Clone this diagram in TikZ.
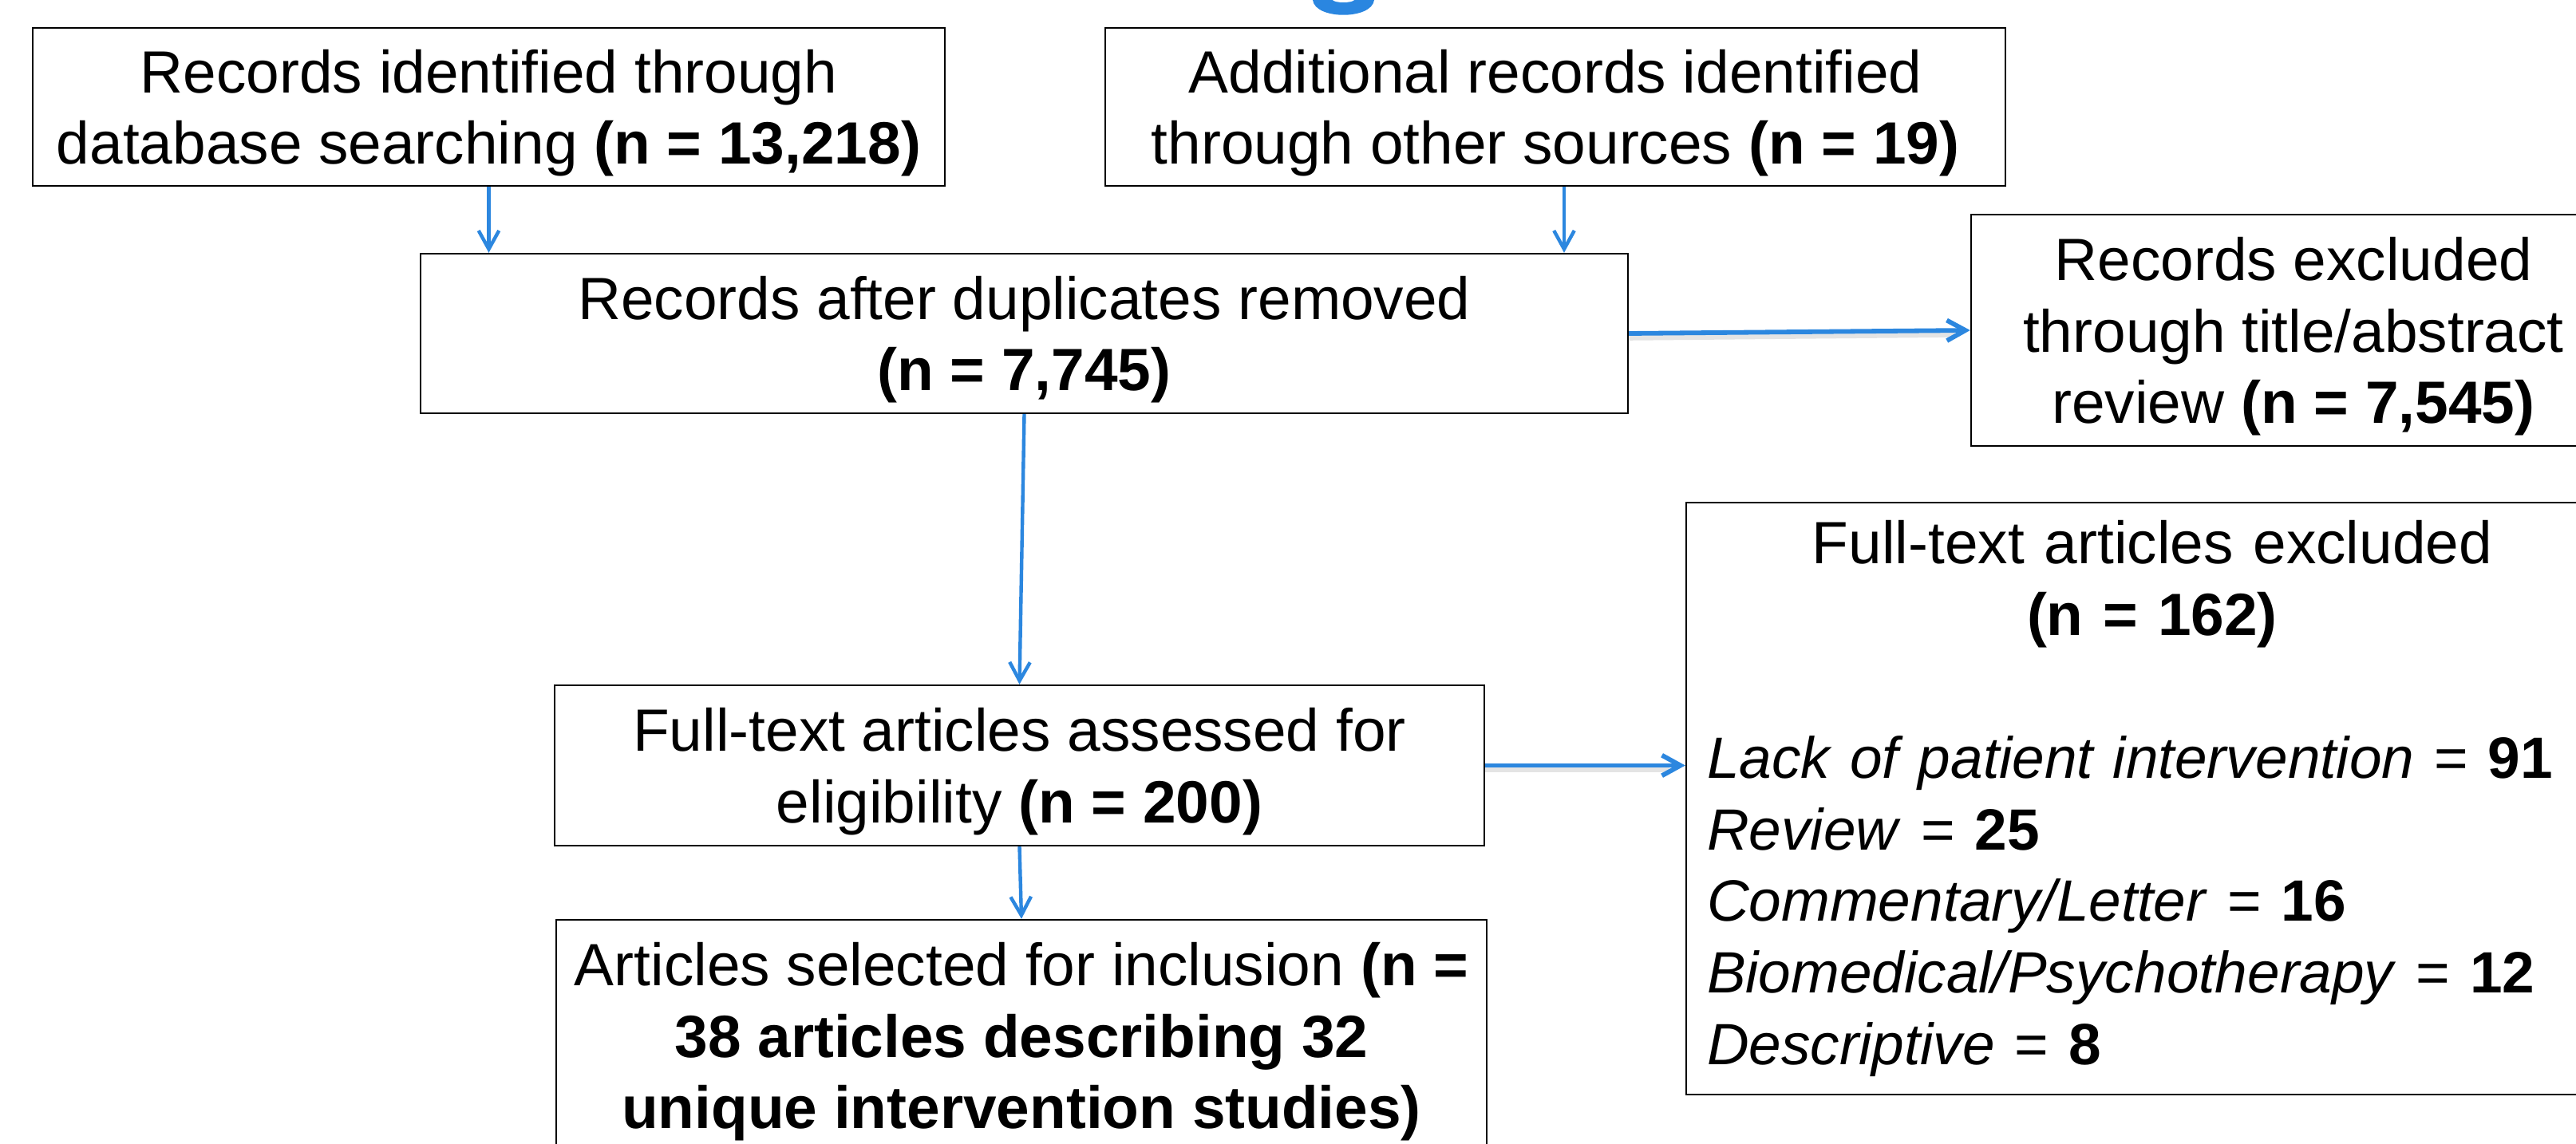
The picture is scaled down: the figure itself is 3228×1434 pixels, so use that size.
\documentclass[tikz,border=0pt]{standalone}
\usepackage{fontspec}
\setmainfont{Liberation Sans}
\usetikzlibrary{arrows.meta}
\setlength{\parindent}{0pt}
\definecolor{arrowblue}{RGB}{44,135,223}
\definecolor{titleblue}{RGB}{42,134,224}
\begin{document}
\begin{tikzpicture}[x=0.25pt,y=-0.25pt,
  basebox/.style={draw=black, line width=0.6pt, rectangle, inner sep=0pt, align=center,
    font=\fontsize{18.7}{22.4}\selectfont},
  box/.style={basebox, text depth=0pt},
  thinarrow/.style={draw=arrowblue, line width=1.1pt, -{Straight Barb[length=5.8pt,width=6.4pt]}},
  thickarrow/.style={draw=arrowblue, line width=1.45pt, -{Straight Barb[length=5.8pt,width=6.4pt]}},
  shadowline/.style={draw=black!30, line width=2pt, opacity=0.35}
]
\useasboundingbox (0,0) rectangle (3228,1434);
\fill[white] (0,0) rectangle (3228,1434);
\clip (0,0) rectangle (3228,1434);

% cut-off descender of the title above the frame
\fill[titleblue] (1645,0) .. controls (1648,25) and (1719,25) .. (1722,0) -- cycle;
\fill[white] (1670,0) .. controls (1673,4) and (1694,4) .. (1697,0) -- cycle;

\node[box, minimum width=285.75pt, minimum height=49.5pt] (b1) at (612.5,134)
  {Records identified through\\database searching \textbf{(n = 13,218)}};
\node[box, minimum width=282pt, minimum height=49.5pt] (b2) at (1949,134)
  {Additional records identified\\through other sources \textbf{(n = 19)}};
\node[box, minimum width=378.25pt, minimum height=50pt] (b3) at (1283.5,418)
  {Records after duplicates removed\\\textbf{(n = 7,745)}};
\node[box, minimum width=202pt, minimum height=72.5pt] (b4) at (2874,414)
  {Records excluded\\through title/abstract\\review \textbf{(n = 7,545)}};
\node[box, minimum width=291.25pt, minimum height=50.25pt] (b5) at (1277.5,959.5)
  {Full-text articles assessed for\\eligibility \textbf{(n = 200)}};
\node[box, minimum width=291.5pt, minimum height=72.5pt] (b6) at (1280,1298)
  {Articles selected for inclusion \textbf{(n =}\\\textbf{38 articles describing 32}\\\textbf{unique intervention studies)}};
\node[basebox, align=left, text width=279pt, minimum width=292pt, minimum height=185.5pt] (b7) at (2697,1001)
  {{\centering Full-text articles excluded\\\textbf{(n = 162)}\par}
   \vspace{\baselineskip}
   {\fontsize{18.25}{22.4}\selectfont
   \textit{Lack of patient intervention} = \textbf{91}\\
   \textit{Review} = \textbf{25}\\
   \textit{Commentary/Letter} = \textbf{16}\\
   \textit{Biomedical/Psychotherapy} = \textbf{12}\\
   \textit{Descriptive} = \textbf{8}\par}
   \vspace*{-3pt}};

% connectors
\draw[thinarrow] (b1.south) -- (b1.south |- b3.north);
\path (b2.south) ++(11,0) coordinate (a2s);
\draw[thinarrow] (a2s) -- (a2s |- b3.north);
\draw[shadowline] ([yshift=-1.2pt]b3.east) -- ([yshift=-1.2pt,xshift=-5pt]b4.west);
\draw[thickarrow] (b3.east) -- (b4.west);
\draw[thinarrow] (b3.south) -- (b5.north);
\draw[thinarrow] (b5.south) -- (b6.north);
\draw[shadowline] ([yshift=-1.2pt]b5.east) -- ([yshift=-1.2pt,xshift=-5pt]b5.east -| b7.west);
\draw[thickarrow] (b5.east) -- (b5.east -| b7.west);
\end{tikzpicture}
\end{document}
